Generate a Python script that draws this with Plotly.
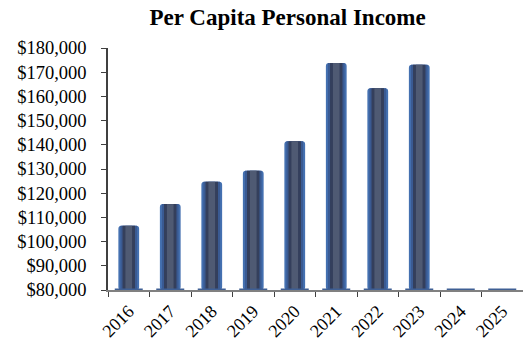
import plotly.graph_objects as go

# Per capita personal income by fiscal year
years = ["2016", "2017", "2018", "2019", "2020", "2021", "2022", "2023", "2024", "2025"]
income = [106500, 115500, 124700, 129300, 141500, 173800, 163400, 173100, 0, 0]

y_ticks = list(range(80000, 180001, 10000))
y_tick_text = [f"${v:,}" for v in y_ticks]

AXIS_MIN = 80000
FONT = "Liberation Serif, Times New Roman, serif"

# Layered bars of decreasing width give a shaded, cylinder-like column
layers = [
    (0.50, "#4470b0", 3),
    (0.40, "#3a5a92", 0),
    (0.30, "#343f5c", 0),
    (0.16, "#4f5a73", 0),
]

fig = go.Figure()
for width, color, radius in layers:
    fig.add_trace(go.Bar(
        x=years,
        y=[max(v - AXIS_MIN, 0) for v in income],
        base=AXIS_MIN,
        width=width,
        marker=dict(color=color, line=dict(width=0), cornerradius=radius),
        hoverinfo="skip",
        showlegend=False,
    ))

# Flat base of each column, visible even where the value is below the axis
fig.add_trace(go.Scatter(
    x=years,
    y=[AXIS_MIN] * len(years),
    mode="markers",
    marker=dict(symbol="line-ew", size=20, line=dict(width=3, color="#3f5f94")),
    hoverinfo="skip",
    showlegend=False,
))

fig.update_layout(
    width=523,
    height=341,
    margin=dict(l=108, r=0, t=48, b=51),
    paper_bgcolor="white",
    plot_bgcolor="white",
    barmode="overlay",
    title=dict(
        text="<b>Per Capita Personal Income</b>",
        x=0.55,
        xanchor="center",
        y=0.95,
        yanchor="middle",
        font=dict(family=FONT, size=23, color="black"),
    ),
    font=dict(family=FONT, color="black"),
)

fig.update_yaxes(
    range=[AXIS_MIN, 180000],
    tickvals=y_ticks,
    ticktext=y_tick_text,
    tickfont=dict(family=FONT, size=18.5, color="black"),
    showgrid=False,
    zeroline=False,
    showline=True,
    linecolor="#404040",
    linewidth=1.5,
    ticks="outside",
    ticklen=5,
    tickcolor="#404040",
    ticklabelstandoff=11,
    automargin=False,
)

fig.update_xaxes(
    range=[-0.5, 9.5],
    tickfont=dict(family=FONT, size=18, color="black"),
    tickangle=-45,
    showgrid=False,
    showline=True,
    linecolor="#808080",
    linewidth=1.5,
    ticks="outside",
    ticklen=5,
    tickcolor="#404040",
    tickson="boundaries",
    ticklabelstandoff=2,
    automargin=False,
)

fig.write_html("out.html")
